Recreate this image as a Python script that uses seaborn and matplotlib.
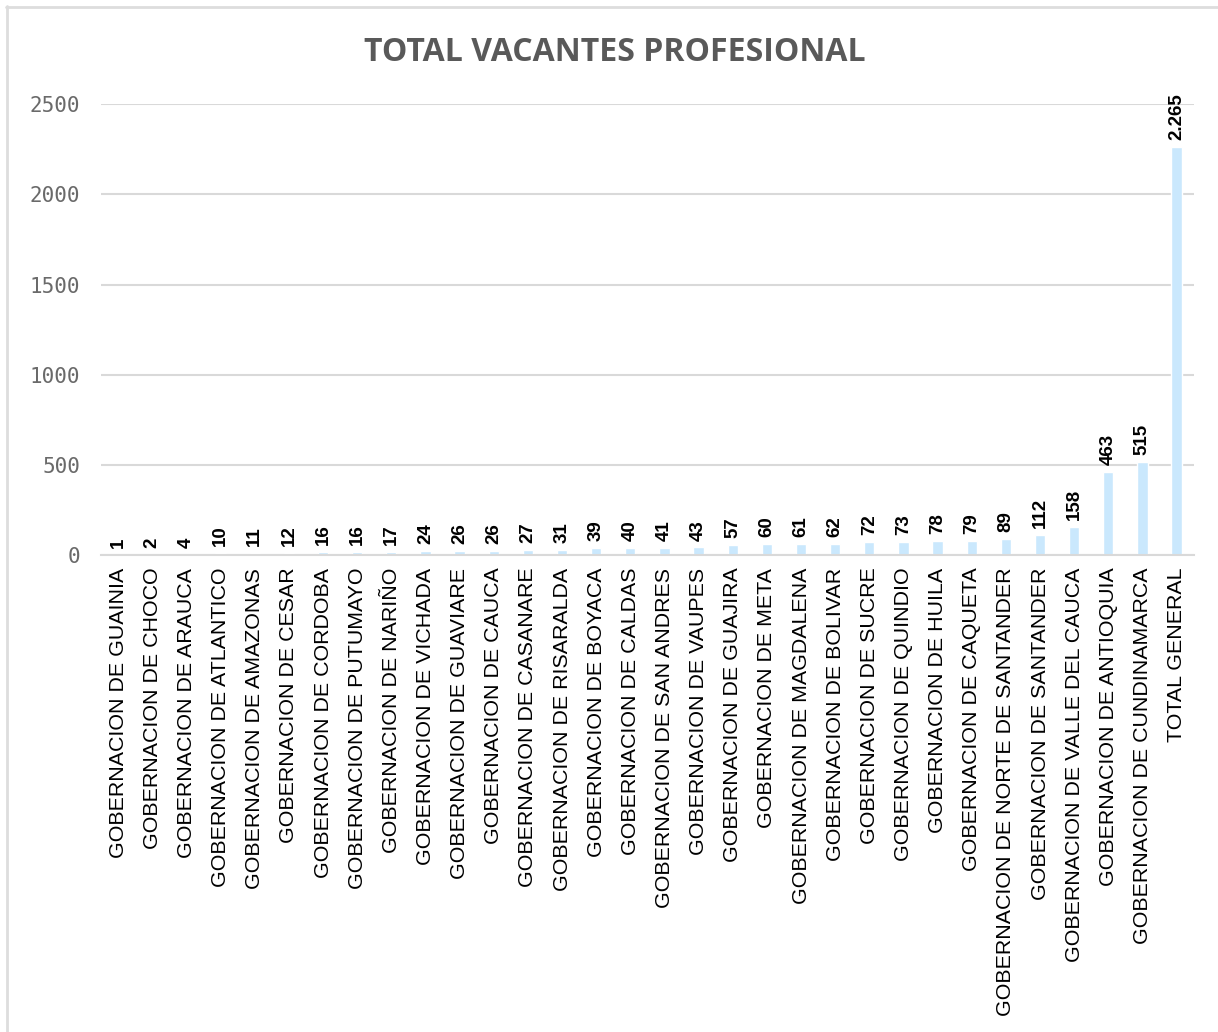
import matplotlib
matplotlib.use("Agg")
import matplotlib.pyplot as plt
import numpy as np
import pandas as pd
import seaborn as sns
from matplotlib.lines import Line2D

categories = [
    "GOBERNACION DE GUAINIA", "GOBERNACION DE CHOCO", "GOBERNACION DE ARAUCA",
    "GOBERNACION DE ATLANTICO", "GOBERNACION DE AMAZONAS", "GOBERNACION DE CESAR",
    "GOBERNACION DE CORDOBA", "GOBERNACION DE PUTUMAYO", "GOBERNACION DE NARIÑO",
    "GOBERNACION DE VICHADA", "GOBERNACION DE GUAVIARE", "GOBERNACION DE CAUCA",
    "GOBERNACION DE CASANARE", "GOBERNACION DE RISARALDA", "GOBERNACION DE BOYACA",
    "GOBERNACION DE CALDAS", "GOBERNACION DE SAN ANDRES", "GOBERNACION DE VAUPES",
    "GOBERNACION DE GUAJIRA", "GOBERNACION DE META", "GOBERNACION DE MAGDALENA",
    "GOBERNACION DE BOLIVAR", "GOBERNACION DE SUCRE", "GOBERNACION DE QUINDIO",
    "GOBERNACION DE HUILA", "GOBERNACION DE CAQUETA",
    "GOBERNACION DE NORTE DE SANTANDER", "GOBERNACION DE SANTANDER",
    "GOBERNACION DE VALLE DEL CAUCA", "GOBERNACION DE ANTIOQUIA",
    "GOBERNACION DE CUNDINAMARCA", "TOTAL GENERAL",
]
vacantes = [1, 2, 4, 10, 11, 12, 16, 16, 17, 24, 26, 26, 27, 31, 39, 40, 41, 43,
            57, 60, 61, 62, 72, 73, 78, 79, 89, 112, 158, 463, 515, 2265]
y_ticks = [0, 500, 1000, 1500, 2000, 2500]

df = pd.DataFrame({"entidad": categories, "vacantes": vacantes})

sns.set_style("white")
fig = plt.figure(figsize=(12.18, 10.32), dpi=100)
ax = fig.add_axes([0.083, 0.462, 0.897, 0.437])

sns.barplot(data=df, x="entidad", y="vacantes", color="#CAE8FD",
            saturation=1, width=0.3, ax=ax)

ax.set_ylim(0, 2500)
ax.set_xlim(-0.5, len(categories) - 0.5)
ax.set_yticks(y_ticks)
ax.set_yticklabels([str(t) for t in y_ticks], family="DejaVu Sans Mono",
                   fontsize=15, color="#6A6A6A")
ax.tick_params(axis="y", length=0, pad=15)
ax.tick_params(axis="x", length=0, pad=9)
ax.set_xticks(range(len(categories)))
ax.set_xticklabels(categories, rotation=90, family="Liberation Sans",
                   fontsize=15.4, color="black", va="top", ha="center")
ax.set_xlabel("")
ax.set_ylabel("")
ax.grid(axis="y", color="#D9D9D9", linewidth=1.5)
ax.set_axisbelow(True)
sns.despine(ax=ax, left=True, top=True, right=True, bottom=False)
ax.spines["bottom"].set_color("#D9D9D9")
ax.spines["bottom"].set_linewidth(1.5)

for i, v in enumerate(vacantes):
    txt = f"{v:,}".replace(",", ".")
    ax.annotate(txt, (i, v), xytext=(0, 5), textcoords="offset points",
                rotation=90, ha="center", va="bottom", fontsize=13.5,
                fontweight="bold", family="Liberation Sans", color="black")

fig.text(0.505, 0.949, "TOTAL VACANTES PROFESIONAL", ha="center", va="center",
         fontsize=23, fontweight="bold", family="Open Sans", color="#595959")

# chart frame (top and left edges visible)
fig.add_artist(Line2D([6 / 1218, 1], [1 - 6.5 / 1032, 1 - 6.5 / 1032],
                      transform=fig.transFigure, color="#DDDDDD", linewidth=2))
fig.add_artist(Line2D([6.5 / 1218, 6.5 / 1218], [0, 1 - 6 / 1032],
                      transform=fig.transFigure, color="#DDDDDD", linewidth=2))

fig.savefig("out.png", dpi=100, facecolor="white")
